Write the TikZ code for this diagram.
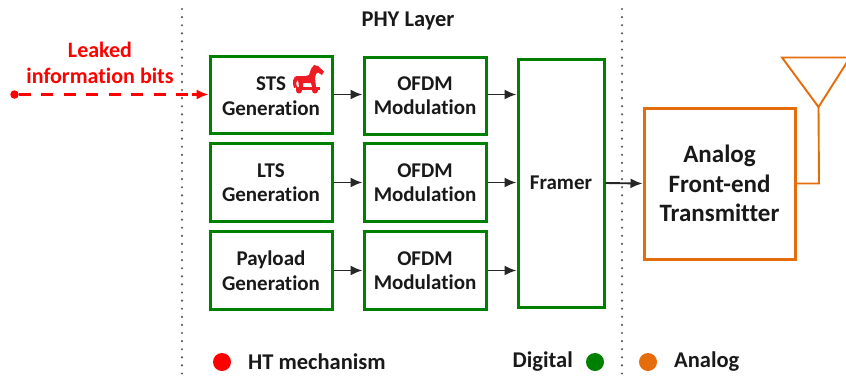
\documentclass[tikz,border=0pt]{standalone}
\usepackage{fontspec}
\setmainfont[Ligatures=NoCommon]{Carlito}
\usetikzlibrary{arrows.meta}
\definecolor{dgreen}{RGB}{0,128,0}
\definecolor{aorange}{RGB}{228,108,10}
\definecolor{hred}{RGB}{255,0,0}
\definecolor{horse}{RGB}{237,28,36}
\tikzset{
  x=1pt,y=-1pt,
  gbox/.style={draw=dgreen,line width=3pt,fill=white,minimum width=#1,inner sep=0pt,align=center,font=\fontsize{21}{24.5}\selectfont\bfseries,text=black!90},
  obox/.style={draw=aorange,line width=3pt,fill=white,inner sep=0pt,align=center,font=\fontsize{25}{29.5}\selectfont\bfseries,text=black!90},
  conn/.style={draw=black!85,line width=1.9pt,-{Latex[length=12pt,width=10pt]}},
  dots/.style={draw=black!65,line width=2.4pt,line cap=round,dash pattern=on 0pt off 8.1pt},
  lbl/.style={font=\fontsize{22.5}{24.5}\selectfont\bfseries,text=black!90,inner sep=0pt},
  gtxt/.style={font=\fontsize{21}{24.5}\selectfont\bfseries,text=black!90,inner sep=0pt},
  dot/.style={circle,inner sep=0pt,minimum size=18pt}
}
\begin{document}
\begin{tikzpicture}
\useasboundingbox (0,0) rectangle (846,381);
\coordinate (d1a) at (182,9); \coordinate (d1b) at (182,381);
\coordinate (d2a) at (622,9); \coordinate (d2b) at (622,381);
\draw[dots] (d1a) -- (d1b);
\draw[dots] (d2a) -- (d2b);
\node[lbl] (phy) at (408,21) {PHY Layer};
\node[gbox=122pt,minimum height=77pt] (sts) at (271,94.5) {};
\node[gtxt] (ststxt) at (271,84) {STS};
\node[gtxt] (stsgen) at (271,108.5) {Generation};
\node[gbox=122pt,minimum height=78pt] (lts) at (271,182.5) {LTS\\Generation};
\node[gbox=122pt,minimum height=78pt] (pay) at (271,270.5) {Payload\\Generation};
\node[gbox=122pt,minimum height=77pt] (o1) at (425,95.5) {OFDM\\Modulation};
\node[gbox=122pt,minimum height=78pt] (o2) at (425,182.5) {OFDM\\Modulation};
\node[gbox=122pt,minimum height=78pt] (o3) at (425,270.5) {OFDM\\Modulation};
\node[gbox=86pt,minimum height=248pt] (fr) at (561,183) {Framer};
\node[obox,minimum width=151pt,minimum height=151pt] (af) at (719.5,183.5) {Analog\\Front-end\\Transmitter};
\draw[conn] (sts.east) -- (o1.west |- sts.east);
\draw[conn] (lts.east) -- (o2.west);
\draw[conn] (pay.east) -- (o3.west);
\draw[conn] (o1.east |- sts.east) -- (fr.west |- sts.east);
\draw[conn] (o2.east) -- (fr.west |- o2.east);
\draw[conn] (o3.east) -- (fr.west |- o3.east);
\draw[conn] (fr.east) -- (af.west);
% antenna
\coordinate (apex) at (818.5,107);
\draw[aorange,line width=1.9pt,line join=miter] (apex) -- (782,57.5) -- (850,57.5) -- cycle;
\coordinate (feed) at (819,183.5);
\draw[aorange,line width=1.9pt] (apex) -- (feed) -- (af.east |- feed);
% leak
\node[font=\fontsize{22}{26}\selectfont\bfseries,text=hred,align=center,inner sep=0pt] (leak) at (100,63) {Leaked\\information bits};
\node[circle,fill=hred,inner sep=0pt,minimum size=8.5pt] (src) at (14.5,94.5) {};
\draw[hred,line width=2.1pt,dash pattern=on 12pt off 10.5pt] (src) -- (198,94.5);
\draw[hred,line width=2.1pt,-{Latex[length=12pt,width=10pt]}] (192,94.5) -- (sts.west);
% horse
\begin{scope}[horse,fill=horse,draw=none]
\fill (297,76) .. controls (293,76) and (292,83) .. (294,88) -- (297,87) .. controls (296,83) and (296,81) .. (298,80)
 -- (299,87) -- (303,87) -- (303,83) -- (311,83) -- (312,87) -- (316,87) -- (315,78)
 .. controls (316,74) and (316,73) .. (318,72.5) -- (322,75) -- (324,71.5) -- (318,66) -- (314,65) -- (311,69)
 -- (309,75) .. controls (305,77) and (300,76) .. (297,76) -- cycle;
\fill (296,87) rectangle (320,89.5);
\fill (299,90.5) circle (3pt);
\fill (315,90.5) circle (3pt);
\end{scope}
% legend
\node[dot,fill=hred] (l1) at (222,362) {};
\node[lbl,anchor=west] (t1) at (248,362) {HT mechanism};
\node[lbl,anchor=east] (t2) at (573,362) {Digital};
\node[dot,fill=dgreen] (l2) at (595,362) {};
\node[dot,fill=aorange] (l3) at (648,362) {};
\node[lbl,anchor=west] (t3) at (674,362) {Analog};
\end{tikzpicture}
\end{document}
